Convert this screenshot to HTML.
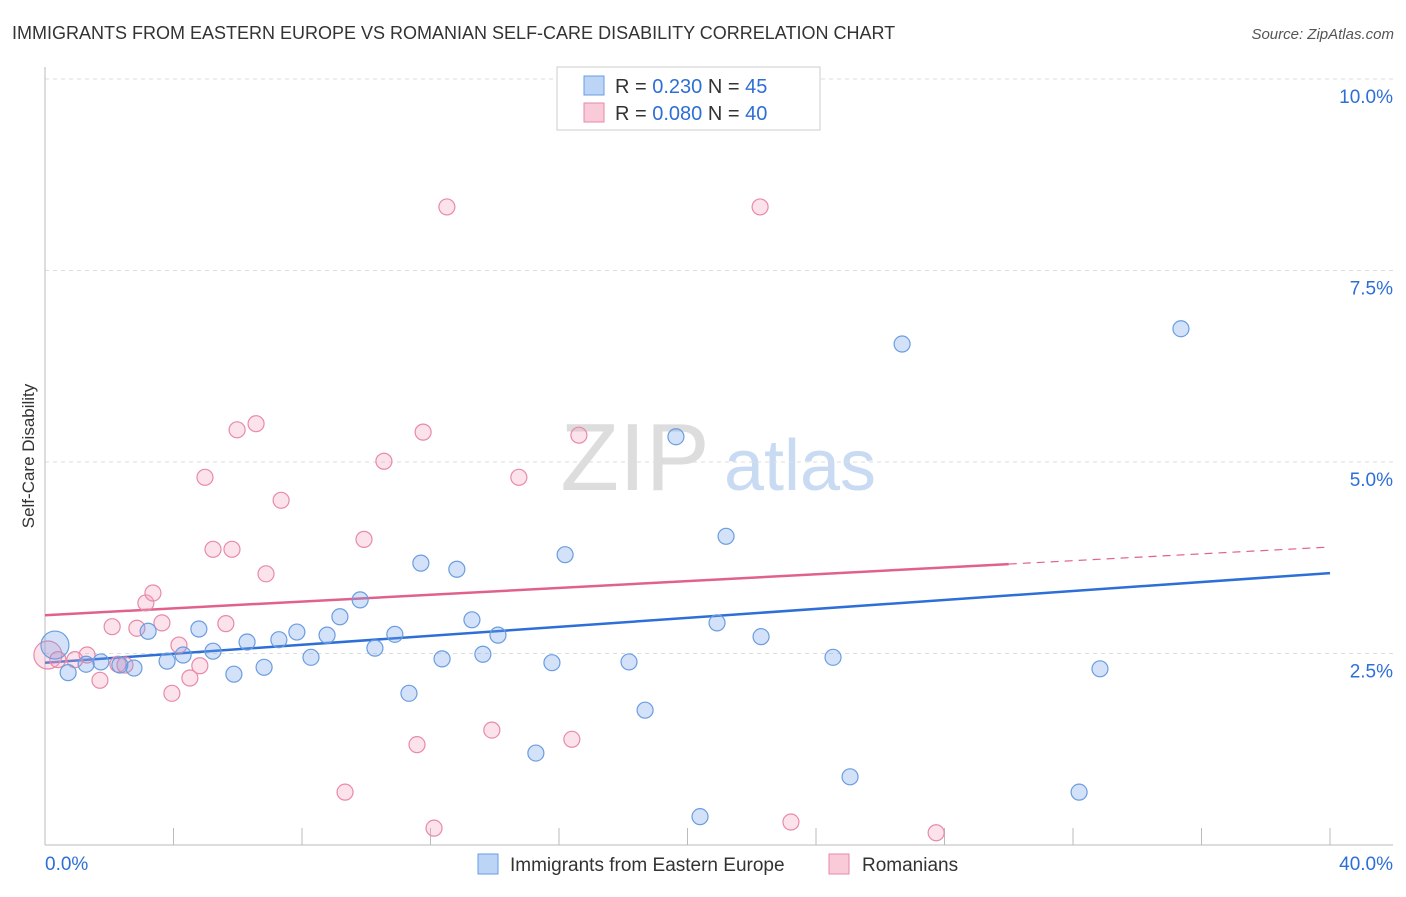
<!DOCTYPE html>
<html><head><meta charset="utf-8"><style>
body{margin:0;background:#fff;font-family:"Liberation Sans",sans-serif;}
svg text{font-family:"Liberation Sans",sans-serif;}
</style></head><body>
<svg id="chart" width="1406" height="892">
<text x="12" y="39" font-size="18" fill="#333">IMMIGRANTS FROM EASTERN EUROPE VS ROMANIAN SELF-CARE DISABILITY CORRELATION CHART</text>
<text x="1394" y="39" font-size="15" fill="#555" font-style="italic" text-anchor="end">Source: ZipAtlas.com</text>
<text x="34" y="456" font-size="17" fill="#333" text-anchor="middle" transform="rotate(-90 34 456)">Self-Care Disability</text>
<g>
<text x="635" y="490" font-size="96" fill="#ddd" text-anchor="middle" font-family="Liberation Serif">ZIP</text>
<text x="800" y="490" font-size="72" fill="#c9daf3" text-anchor="middle">atlas</text>
</g>
<g id="grid"></g><g id="axes"></g><g id="trend"></g><g id="points"></g>
<g>
<rect x="557" y="67" width="263" height="63" fill="#fff" stroke="#ccc"/>
<rect x="584" y="76" width="20" height="19" fill="#bcd4f6" stroke="#6a9de0"/>
<text x="615" y="93" font-size="20" fill="#333">R = <tspan fill="#2d6fd6">0.230</tspan>   N = <tspan fill="#2d6fd6">45</tspan></text>
<rect x="584" y="103" width="20" height="19" fill="#f9cad8" stroke="#e88aa8"/>
<text x="615" y="120" font-size="20" fill="#333">R = <tspan fill="#2d6fd6">0.080</tspan>   N = <tspan fill="#2d6fd6">40</tspan></text>
</g>
<g>
<rect x="478" y="854" width="20" height="20" fill="#bcd4f6" stroke="#6a9de0"/>
<text x="510" y="871" font-size="19" fill="#333">Immigrants from Eastern Europe</text>
<rect x="829" y="854" width="20" height="20" fill="#f9cad8" stroke="#e88aa8"/>
<text x="862" y="871" font-size="19" fill="#333">Romanians</text>
</g>
</svg>
<script>
const blueX=[0.31,0.72,1.28,1.74,2.33,2.77,3.21,3.80,4.30,4.79,5.23,5.88,6.29,6.82,7.28,7.84,8.28,8.78,9.18,9.81,10.27,10.89,11.33,11.70,12.36,12.82,13.29,13.63,14.10,15.28,15.78,16.19,18.18,18.68,19.64,20.39,20.92,21.20,22.29,24.53,25.06,26.68,32.19,32.84,35.36];
const blueY=[2.61,2.25,2.36,2.39,2.35,2.31,2.79,2.40,2.48,2.82,2.53,2.23,2.65,2.32,2.68,2.78,2.45,2.74,2.98,3.20,2.57,2.75,1.98,3.68,2.43,3.60,2.94,2.49,2.74,1.20,2.38,3.79,2.39,1.76,5.33,0.37,2.90,4.03,2.72,2.45,0.89,6.54,0.69,2.30,6.74];
const pinkX=[0.09,0.40,0.93,1.31,1.71,2.09,2.27,2.49,2.86,3.14,3.36,3.64,3.95,4.17,4.51,4.82,4.98,5.23,5.63,5.82,5.98,6.57,6.88,7.35,9.34,9.93,10.55,11.58,11.77,12.11,12.51,13.91,14.75,16.40,16.62,22.26,23.22,27.74];
const pinkY=[2.48,2.42,2.42,2.48,2.15,2.85,2.36,2.35,2.83,3.16,3.29,2.90,1.98,2.61,2.18,2.34,4.80,3.86,2.89,3.86,5.42,5.50,3.54,4.50,0.69,3.99,5.01,1.31,5.39,0.22,8.33,1.50,4.80,1.38,5.35,8.33,0.30,0.16];
const blueTrend=[2.38,3.55];   // y at x=0 and x=40
const pinkTrend=[3.00,3.89];
const yTicks=[2.5,5.0,7.5,10.0];
const xTickLabels=["0.0%","40.0%"];
const NS="http://www.w3.org/2000/svg";
const X0=45,X1=1330,YB=845,PXY=76.6;
const sx=v=>X0+(X1-X0)*v/40, sy=v=>YB-v*PXY;
function mk(p,t,a){const e=document.createElementNS(NS,t);for(const k in a)e.setAttribute(k,a[k]);p.appendChild(e);return e;}
const grid=document.getElementById('grid'),axes=document.getElementById('axes'),trend=document.getElementById('trend'),pts=document.getElementById('points');
yTicks.forEach(v=>{
 const l=mk(grid,'line',{x1:X0,x2:1393,y1:sy(v),y2:sy(v),stroke:'#ddd','stroke-dasharray':'4,4'});
 
 
 const t=mk(axes,'text',{x:1393,y:sy(v)+24,'font-size':19,fill:'#2d6fd6','text-anchor':'end'});
 t.textContent=v.toFixed(1)+'%';
 
 
});
const ya=mk(axes,'line',{x1:X0,x2:X0,y1:67,y2:YB,stroke:'#bbb'});


const xa=mk(axes,'line',{x1:X0,x2:1393,y1:YB,y2:YB,stroke:'#bbb'});


for(let i=1;i<=10;i++){const tk=mk(axes,'line',{x1:sx(i*4),x2:sx(i*4),y1:828,y2:YB,stroke:'#bbb'});
 
 }
const xl0=mk(axes,'text',{x:45,y:870,'font-size':19,fill:'#2d6fd6'});xl0.textContent=xTickLabels[0];


const xl1=mk(axes,'text',{x:1393,y:870,'font-size':19,fill:'#2d6fd6','text-anchor':'end'});xl1.textContent=xTickLabels[1];


function dot(x,y,r,fill,stroke,name){const c=mk(pts,'circle',{cx:sx(x),cy:sy(y),r:r,fill:fill,stroke:stroke,'stroke-width':1.2});
 
 }
pinkX.forEach((x,i)=>dot(x,pinkY[i],i==0?14:8,'rgba(244,160,190,0.3)','#e88aa8','point-romanians'));
blueX.forEach((x,i)=>dot(x,blueY[i],i==0?14:8,'rgba(110,160,235,0.3)','#6a9de0','point-eastern-europe'));
const bl=mk(trend,'line',{x1:sx(0),y1:sy(blueTrend[0]),x2:sx(40),y2:sy(blueTrend[1]),stroke:'#2d6fd6','stroke-width':2.5});


const pm=pinkTrend[0]+(pinkTrend[1]-pinkTrend[0])*30/40;
const pl=mk(trend,'line',{x1:sx(0),y1:sy(pinkTrend[0]),x2:sx(30),y2:sy(pm),stroke:'#e0628c','stroke-width':2.5});


const pd=mk(trend,'line',{x1:sx(30),y1:sy(pm),x2:sx(40),y2:sy(pinkTrend[1]),stroke:'#e0628c','stroke-width':1.2,'stroke-dasharray':'8,6'});


</script>
</body></html>
